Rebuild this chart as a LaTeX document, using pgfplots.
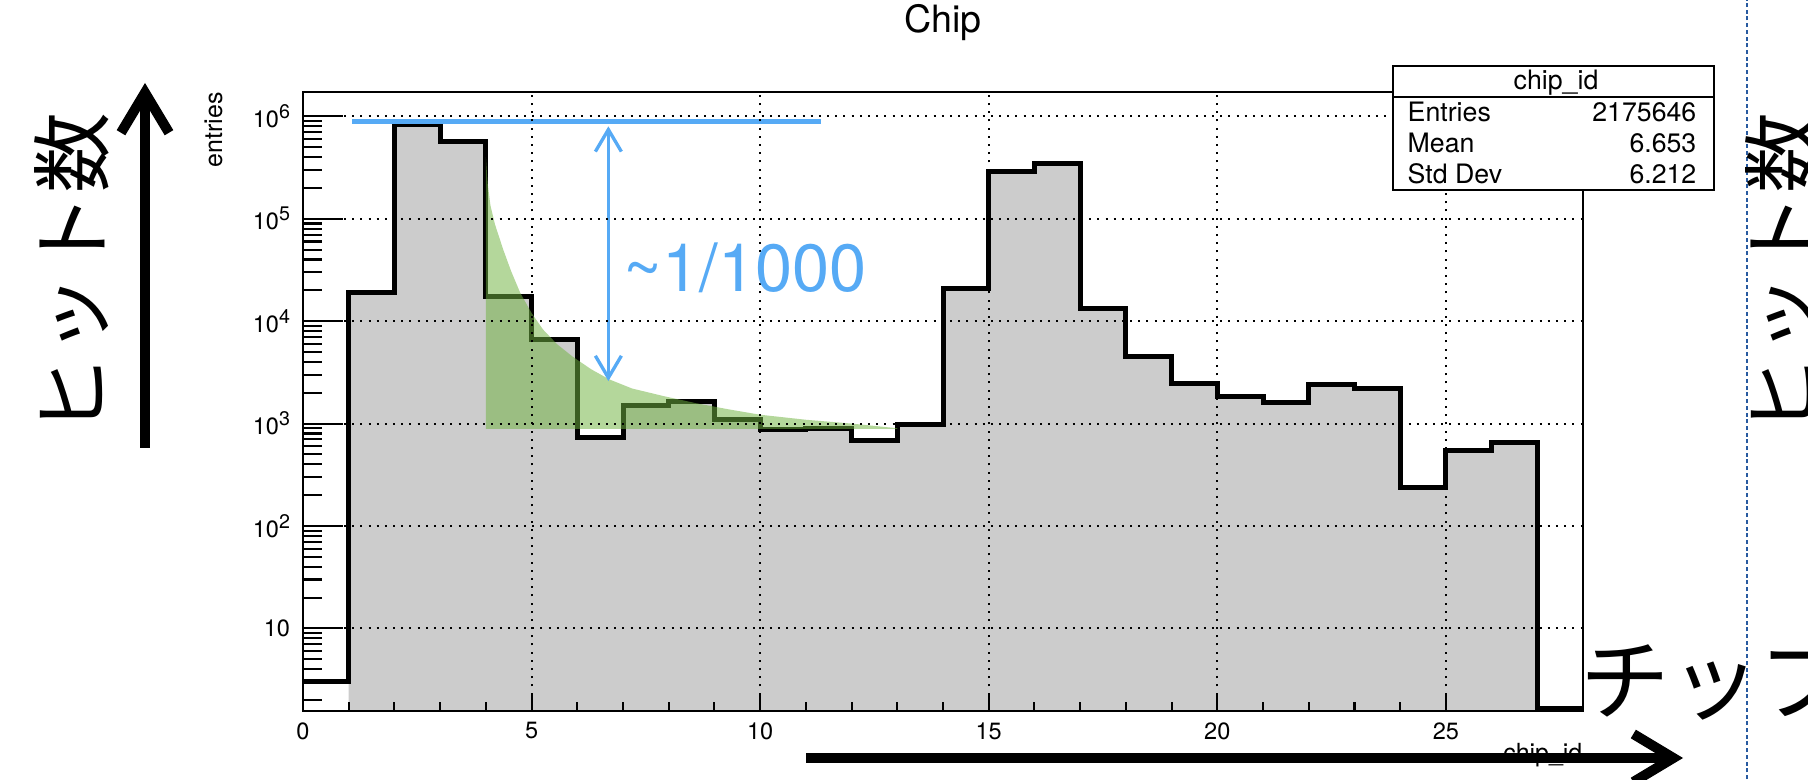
\documentclass[border=0pt]{standalone}
\usepackage{fontspec}
\setmainfont{TeX Gyre Heros}
\newfontfamily\jp{Noto Sans CJK JP}
\usepackage{pgfplots}
\pgfplotsset{compat=1.18}
\usetikzlibrary{arrows.meta}

\definecolor{histgray}{RGB}{204,204,204}
\definecolor{fitgreen}{RGB}{113,179,66}
\definecolor{noteblue}{RGB}{86,170,245}
\definecolor{sepblue}{RGB}{40,90,160}

% decade label: 10 with a raised exponent
\newcommand{\dec}[1]{10\raisebox{2.6pt}{\fontsize{5.6}{6}\selectfont #1}}

\begin{document}
\begin{tikzpicture}
\useasboundingbox (0,0) rectangle (180.8mm,77.9mm);
\clip (0,0) rectangle (180.8mm,77.9mm);

\begin{axis}[
  at={(30.3mm,6.8mm)}, anchor=south west,
  width=128mm, height=61.9mm, scale only axis,
  xmin=0, xmax=28, ymode=log, ymin=1.56, ymax=1.73e6,
  axis on top,
  axis line style={line width=0.6pt},
  tick pos=lower, tick align=inside,
  tick style={black, line width=0.6pt},
  xtick={0,5,10,15,20,25},
  xticklabels={0,5,10,15,20,25},
  minor x tick num=4,
  xtick style={/pgfplots/major tick length=1.8mm, /pgfplots/minor tick length=0.93mm},
  ytick={10,100,1000,10000,100000,1000000},
  yticklabels={10,\dec{2},\dec{3},\dec{4},\dec{5},\dec{6}},
  minor ytick={2,3,4,5,6,7,8,9,20,30,40,50,60,70,80,90,200,300,400,500,600,700,800,900,2000,3000,4000,5000,6000,7000,8000,9000,20000,30000,40000,50000,60000,70000,80000,90000,200000,300000,400000,500000,600000,700000,800000,900000},
  ytick style={/pgfplots/major tick length=4mm, /pgfplots/minor tick length=1.9mm},
  tick label style={font=\fontsize{6.7}{8}\selectfont, inner sep=0pt},
  xticklabel style={yshift=-1.07mm},
  yticklabel style={xshift=-1.23mm},
  grid=major,
  major grid style={black, line width=0.57pt, dash pattern=on 0.57pt off 1.76pt},
  title={Chip},
  title style={at={(0.5,1)}, anchor=base, yshift=3.87mm, inner sep=0pt, font=\fontsize{10.7}{12}\selectfont},
]
% filled body of the histogram (bins 1 to 26)
\addplot[const plot, fill=histgray, draw=none] coordinates {
  (1,0.1) (1,1.9e4) (2,8.4e5) (3,5.7e5) (4,1.75e4) (5,6.65e3) (6,730)
  (7,1.49e3) (8,1.66e3) (9,1.1e3) (10,880) (11,900) (12,680) (13,980)
  (14,2.1e4) (15,2.87e5) (16,3.43e5) (17,1.32e4) (18,4.55e3) (19,2.45e3)
  (20,1.83e3) (21,1.61e3) (22,2.39e3) (23,2.21e3) (24,237) (25,543)
  (26,652) (27,0.1)} -- cycle;
% histogram outline, chip_id bins 0..27
\addplot[const plot, black, line width=1.42pt] coordinates {
  (0,3) (1,1.9e4) (2,8.4e5) (3,5.7e5) (4,1.75e4) (5,6.65e3) (6,730)
  (7,1.49e3) (8,1.66e3) (9,1.1e3) (10,880) (11,900) (12,680) (13,980)
  (14,2.1e4) (15,2.87e5) (16,3.43e5) (17,1.32e4) (18,4.55e3) (19,2.45e3)
  (20,1.83e3) (21,1.61e3) (22,2.39e3) (23,2.21e3) (24,237) (25,543)
  (26,652) (27,1.65) (28,1.65)};
% tail shading after the main peak
\addplot[fill=fitgreen, fill opacity=0.53, draw=none] coordinates {
  (4.00,890) (4.00,4.0e5) (4.04,2.2e5) (4.10,1.35e5) (4.20,8.8e4)
  (4.38,5.0e4) (4.55,3.1e4) (4.75,1.9e4) (5.00,1.2e4) (5.25,8.3e3)
  (5.55,6.0e3) (5.90,4.5e3) (6.30,3.4e3) (6.70,2.7e3) (7.20,2.2e3)
  (7.90,1.85e3) (8.60,1.58e3) (9.30,1.38e3) (10.0,1.22e3) (11.0,1.09e3)
  (12.0,1.0e3) (13.0,900) (13.0,890)} -- cycle;
% peak level and the ratio arrow
\addplot[noteblue, line width=1.2pt] coordinates {(1.07,8.9e5) (11.33,8.9e5)};
\addplot[noteblue, line width=0.95pt,
  {Straight Barb[length=2.2mm,width=2.6mm]}-{Straight Barb[length=2.2mm,width=2.6mm]}]
  coordinates {(6.68,8.0e5) (6.68,2.6e3)};
\end{axis}

\begin{scope}[x=0.1mm,y=0.1mm]
  % statistics box
  \draw[fill=white, line width=0.6pt] (1393,589) rectangle (1714,713);
  \draw[line width=0.6pt] (1393,682.3) -- (1714,682.3);
  \begin{scope}[every node/.style={inner sep=0pt, font=\fontsize{7.6}{9}\selectfont}]
    \node[anchor=base] at (1556,689.7) {chip\_id};
    \node[anchor=base west] at (1407,657.3) {Entries};
    \node[anchor=base east] at (1697,657.3) {2175646};
    \node[anchor=base west] at (1407,626.3) {Mean};
    \node[anchor=base east] at (1697,626.3) {6.653};
    \node[anchor=base west] at (1407,595.7) {Std Dev};
    \node[anchor=base east] at (1697,595.7) {6.212};
  \end{scope}

  % axis titles
  \node[rotate=90, anchor=east, inner sep=0pt, font=\fontsize{7.1}{8}\selectfont] at (213.5,687.3) {entries};
  \node[anchor=base east, inner sep=0pt, font=\fontsize{7.1}{8}\selectfont] at (1583,18) {chip\_id};

  % ratio note
  \node[anchor=west, inner sep=0pt, text=noteblue, font=\fontsize{19}{21}\selectfont] at (623,511.5) {\textasciitilde1/1000};

  % slide annotations
  \node[rotate=90, inner sep=0pt, font=\jp\fontsize{23}{25}\selectfont] at (72,504.5) {ヒット数};
  \draw[line width=1mm, -{Straight Barb[length=4mm,width=4.8mm]}] (145,331) -- (145,696);
  \draw[line width=1mm, -{Straight Barb[length=4mm,width=4.8mm]}] (806,21) -- (1683,21);
  \node[anchor=west, inner sep=0pt, font=\jp\fontsize{25.5}{27}\selectfont] at (1580,99.5) {チップ};

  % border of the next panel
  \draw[sepblue, line width=0.57pt, dash pattern=on 1.14pt off 0.77pt] (1747,0) -- (1747,779);
  \node[rotate=90, inner sep=0pt, font=\jp\fontsize{23}{25}\selectfont] at (1783,504.5) {ヒット数};
\end{scope}
\end{tikzpicture}
\end{document}
